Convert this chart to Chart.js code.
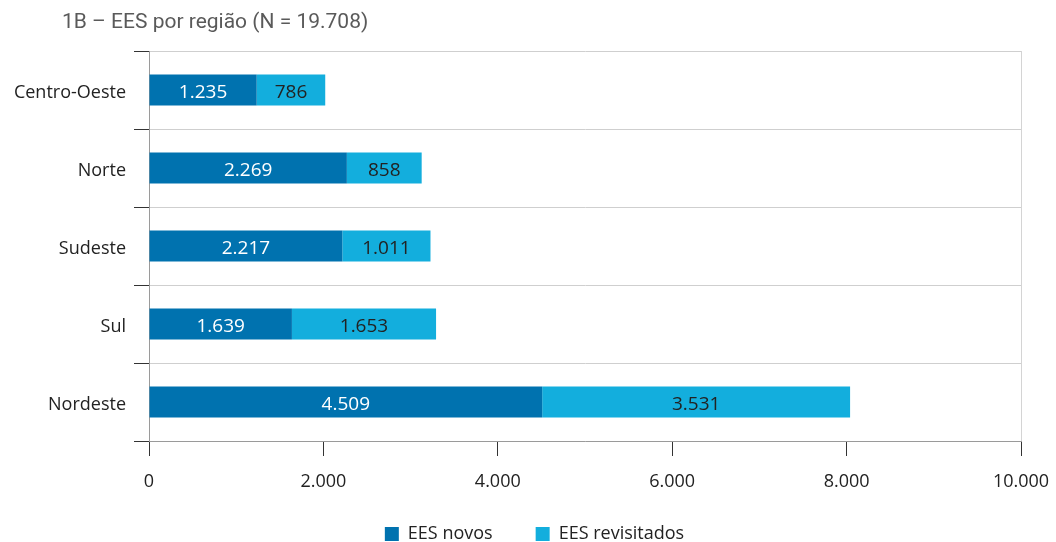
<!DOCTYPE html>
<html>
<head>
<meta charset="utf-8">
<script src="https://cdn.jsdelivr.net/npm/chart.js@4/dist/chart.umd.min.js"></script>
<style>
html,body{margin:0;padding:0;background:#fff;}
#wrap{position:relative;width:1056px;height:542px;}
</style>
</head>
<body>
<div id="wrap"><canvas id="c" width="1056" height="542"></canvas></div>
<script>
const titleText = '1B – EES por região (N = 19.708)';
const categories = ['Centro-Oeste', 'Norte', 'Sudeste', 'Sul', 'Nordeste'];
const novos = [1235, 2269, 2217, 1639, 4509];
const revisitados = [786, 858, 1011, 1653, 3531];
const seriesNames = ['EES novos', 'EES revisitados'];
const xTicks = [0, 2000, 4000, 6000, 8000, 10000];

const DARK = '#0072AF';
const LIGHT = '#13AEDD';
const FONT = "'Open Sans', 'Noto Sans', sans-serif";

function fmt(v){
  return String(Math.round(v)).replace(/\B(?=(\d{3})+(?!\d))/g, '.');
}

const labelPlugin = {
  id: 'barLabels',
  afterDatasetsDraw(chart){
    const ctx = chart.ctx;
    ctx.save();
    ctx.font = "19px " + FONT;
    ctx.textAlign = 'center';
    ctx.textBaseline = 'middle';
    chart.data.datasets.forEach((ds, di) => {
      const meta = chart.getDatasetMeta(di);
      meta.data.forEach((el, i) => {
        const p = el.getProps(['x','y','base'], true);
        ctx.fillStyle = di === 0 ? '#ffffff' : '#222222';
        ctx.fillText(fmt(ds.data[i]), (p.x + p.base) / 2, p.y + 3);
      });
    });
    ctx.restore();
  }
};

const titlePlugin = {
  id: 'leftTitle',
  afterDraw(chart){
    const ctx = chart.ctx;
    ctx.save();
    ctx.font = "21px Roboto, 'Open Sans', sans-serif";
    ctx.fillStyle = '#5a5a5a';
    ctx.textAlign = 'left';
    ctx.textBaseline = 'middle';
    ctx.fillText(titleText, 62, 23);
    ctx.restore();
  }
};

new Chart(document.getElementById('c'), {
  type: 'bar',
  data: {
    labels: categories,
    datasets: [
      { label: seriesNames[0], data: novos, backgroundColor: DARK, borderWidth: 0 },
      { label: seriesNames[1], data: revisitados, backgroundColor: LIGHT, borderWidth: 0 }
    ]
  },
  options: {
    indexAxis: 'y',
    responsive: false,
    animation: false,
    devicePixelRatio: 1,
    layout: { padding: { top: 51, right: 35, left: 48, bottom: -11 } },
    datasets: { bar: { categoryPercentage: 1, barPercentage: 0.4 } },
    scales: {
      x: {
        stacked: true,
        min: 0, max: 10000,
        afterBuildTicks(scale){ scale.ticks = xTicks.map(v => ({ value: v })); },
        ticks: {
          callback: v => fmt(v),
          color: '#222',
          font: { family: FONT, size: 18 },
          padding: 15,
          maxRotation: 0
        },
        grid: {
          color: c => (c.tick && c.tick.value === 10000) ? '#d4d4d4' : 'rgba(0,0,0,0)',
          tickColor: '#333',
          tickLength: 15,
          lineWidth: 1
        },
        border: { color: '#9a9a9a', width: 1 },
        afterFit(scale){
          scale.height = 41;
          scale.paddingRight = 0;
          scale.paddingLeft = 0;
          scale._computeLabelArea = function(){ return undefined; };
        }
      },
      y: {
        stacked: true,
        ticks: {
          color: '#222',
          font: { family: FONT, size: 18 },
          padding: 8,
          labelOffset: 3
        },
        grid: {
          offset: true,
          color: '#cfcfcf',
          tickColor: '#333',
          tickLength: 15,
          lineWidth: 1
        },
        border: { color: '#9a9a9a', width: 1 },
        afterFit(scale){
          scale.width = 101;
          scale._computeLabelArea = function(){ return undefined; };
        }
      }
    },
    plugins: {
      legend: {
        position: 'bottom',
        labels: {
          boxWidth: 14,
          boxHeight: 14,
          padding: 43,
          color: '#222',
          font: { family: FONT, size: 18 }
        }
      },
      tooltip: { enabled: false },
      title: { display: false }
    }
  },
  plugins: [labelPlugin, titlePlugin]
});
</script>
</body>
</html>
